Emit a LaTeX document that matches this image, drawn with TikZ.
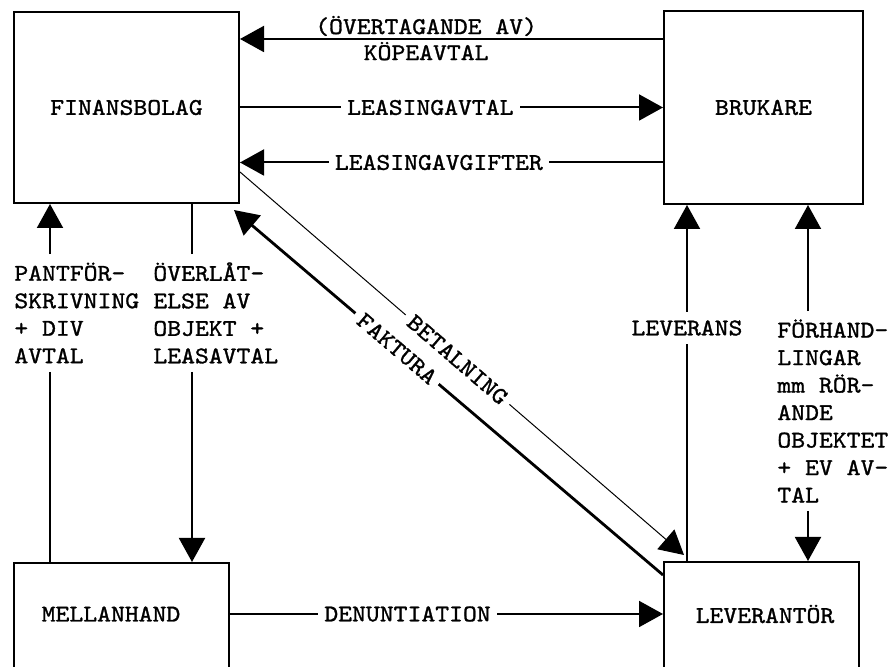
\documentclass[tikz,border=0pt]{standalone}
\usepackage{fontspec}
\setmonofont{lmmono10-regular.otf}[FakeStretch=1.1,FakeBold=1.2]
\usetikzlibrary{arrows.meta}

\begin{document}
\begin{tikzpicture}[x=0.5pt,y=-0.5pt,>={Triangle[length=12pt,width=13pt]},
  box/.style={draw,line width=1pt,rectangle,anchor=north west},
  lbl/.style={font=\fontsize{12pt}{13.75pt}\selectfont\ttfamily,inner sep=4pt},
  cut/.style={lbl,fill=white,inner sep=3pt},
  conn/.style={line width=1pt}]

\useasboundingbox (0,0) rectangle (891,667);

% The boxes
\node[box,lbl,minimum width=112.5pt,minimum height=95.5pt] (fin) at (13,11) {FINANSBOLAG};
\node[box,lbl,minimum width=99.5pt,minimum height=96.5pt] (bruk) at (663,10) {BRUKARE};
\node[box,minimum width=107.5pt,minimum height=80pt] (mell) at (13,562) {};
\node[box,minimum width=97.5pt,minimum height=80pt] (lev) at (663,561) {};
\node[lbl] (mellText) at (111,614) {MELLANHAND};
\node[lbl] (levText) at (765,614) {LEVERANTÖR};

% The side labels
\node[lbl,align=left,anchor=west] (pant) at (6,313) {PANTFÖR-\\SKRIVNING\\+ DIV\\AVTAL};
\node[lbl,align=left,anchor=west] (over) at (145,313) {ÖVERLÅT-\\ELSE AV\\OBJEKT +\\LEASAVTAL};
\node[lbl] (leverans) at (687,328) {LEVERANS};
\node[lbl,align=left,anchor=west] (forh) at (769,411) {FÖRHAND-\\LINGAR\\mm RÖR-\\ANDE\\OBJEKTET\\+ EV AV-\\TAL};

\coordinate (koepBruk) at ([yshift=-14.5pt]bruk.north west);
\coordinate (gifFin) at ([yshift=-27.5pt]fin.east);
\coordinate (pantTop) at ([xshift=22pt]pant.north west);
\coordinate (pantBot) at ([xshift=22pt]pant.south west);
\coordinate (overTop) at ([xshift=23.5pt]over.north west);
\coordinate (overBot) at ([xshift=23.5pt]over.south west);
\coordinate (forhTop) at ([xshift=19.5pt]forh.north west);
\coordinate (forhBot) at ([xshift=19.5pt]forh.south west);

% Between finansbolag and brukare
\draw[conn,->] (koepBruk) -- node[lbl,above,inner sep=1pt,pos=0.56] {(ÖVERTAGANDE AV)}
  node[lbl,below,inner sep=1pt,pos=0.56] {KÖPEAVTAL} (koepBruk -| fin.east);
\draw[conn,->] (fin.east) -- node[cut,pos=0.45] {LEASINGAVTAL} (fin.east -| bruk.west);
\draw[conn,->] (gifFin -| bruk.west) -- node[cut,pos=0.53] {LEASINGAVGIFTER} (gifFin);

% The diagonals
\draw[line width=0.5pt,->] ([yshift=16pt]fin.south east) -- node[cut,sloped,pos=0.49] {BETALNING}
  ([xshift=10.5pt,yshift=3pt]lev.north west);
\draw[line width=1.4pt,->] ([yshift=-7pt]lev.north west) -- node[cut,sloped,pos=0.62] {FAKTURA}
  ([xshift=-3pt,yshift=-3pt]fin.south east);

% The verticals
\draw[conn,->] (pantTop) -- (pantTop |- fin.south);
\draw[conn] (pantBot) -- (pantBot |- mell.north);
\draw[conn] (overTop) -- (overTop |- fin.south);
\draw[conn,->] (overBot) -- (overBot |- mell.north);
\draw[conn,->] (leverans.north) -- (leverans.north |- bruk.south);
\draw[conn] (leverans.south) -- (leverans.south |- lev.north);
\draw[conn,->] (forhTop) -- (forhTop |- bruk.south);
\draw[conn,->] (forhBot) -- (forhBot |- lev.north);

% Bottom
\draw[conn,->] (mell.east |- mellText) -- node[cut,pos=0.41] {DENUNTIATION} (lev.west |- mellText);

\end{tikzpicture}
\end{document}
